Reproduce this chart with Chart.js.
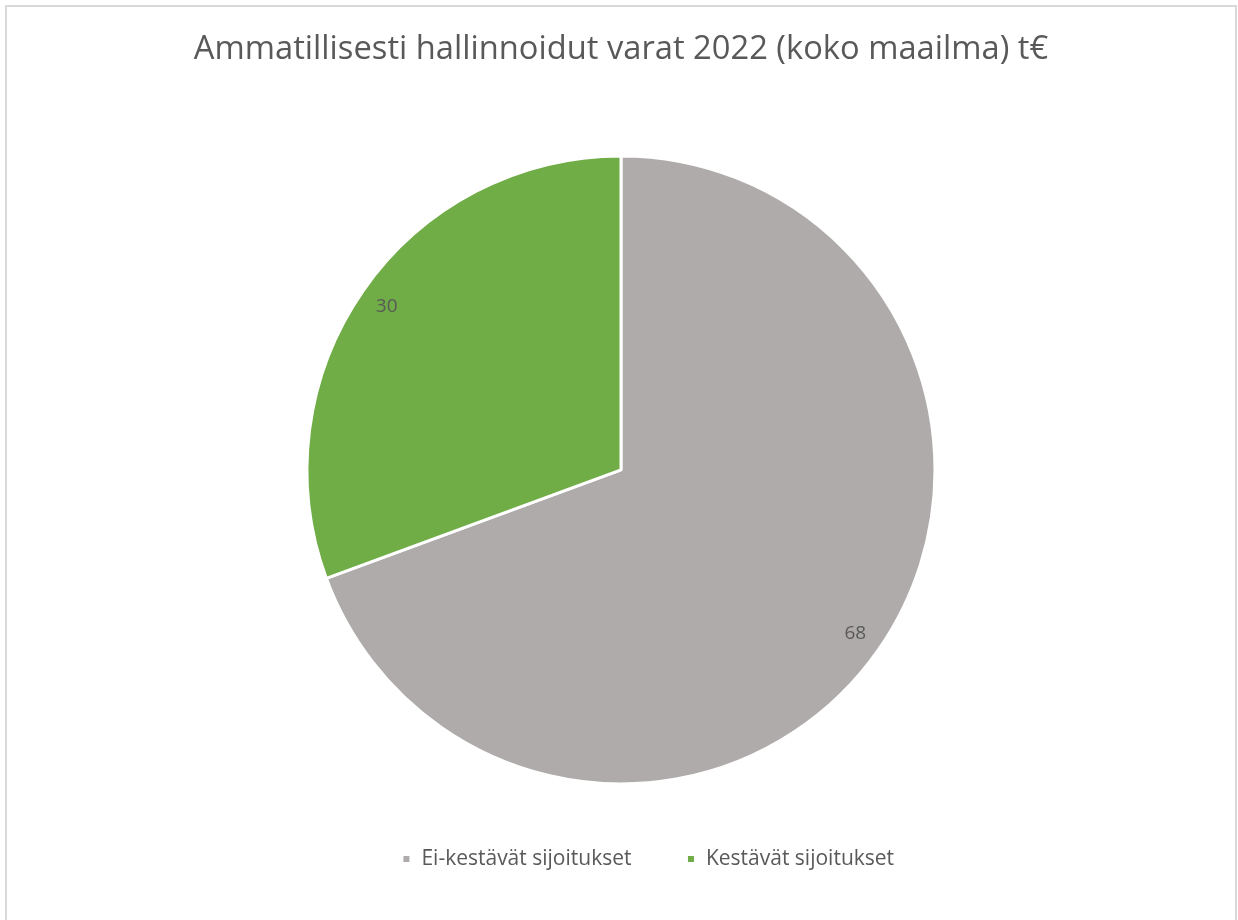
<!DOCTYPE html>
<html>
<head>
<meta charset="utf-8">
<script src="https://cdn.jsdelivr.net/npm/chart.js@4/dist/chart.umd.min.js"></script>
<style>
  body { margin: 0; background: #fff; }
  #frame { position: absolute; left: 5px; top: 5px; width: 1228px; height: 930px; border: 2px solid #d9d9d9; }
  #wrap { position: absolute; left: 0; top: 0; width: 1238px; height: 920px; }
</style>
</head>
<body>
<div id="frame"></div>
<div id="wrap"><canvas id="pieChart"></canvas></div>
<script>
const chartTitle = "Ammatillisesti hallinnoidut varat 2022 (koko maailma) t€";
const categories = ["Ei-kestävät sijoitukset", "Kestävät sijoitukset"];
const values = [68, 30];
const colors = ["#AFABAB", "#70AD47"];

const textColor = "#595959";
const fontFamily = "'Open Sans', sans-serif";

// draws the value of each slice near its outer edge
const sliceLabels = {
  id: "sliceLabels",
  afterDatasetsDraw(chart) {
    const ctx = chart.ctx;
    const meta = chart.getDatasetMeta(0);
    ctx.save();
    ctx.fillStyle = textColor;
    ctx.font = "19px " + fontFamily;
    ctx.textAlign = "center";
    ctx.textBaseline = "middle";
    meta.data.forEach((arc, i) => {
      const p = arc.getProps(["x", "y", "startAngle", "endAngle", "outerRadius"], true);
      const mid = (p.startAngle + p.endAngle) / 2;
      const r = p.outerRadius * 0.91;
      ctx.fillText(values[i], p.x + Math.cos(mid) * r, p.y + Math.sin(mid) * r);
    });
    ctx.restore();
  }
};

// the legend sits a bit right of centre in the original
const legendShift = {
  id: "legendShift",
  afterLayout(chart) {
    chart.legend.left += 27;
    chart.legend.right += 27;
  }
};

const ctx = document.getElementById("pieChart").getContext("2d");
new Chart(ctx, {
  type: "pie",
  data: {
    labels: categories,
    datasets: [{
      data: values,
      backgroundColor: colors,
      borderColor: "#ffffff",
      borderWidth: 3,
      radius: 314
    }]
  },
  options: {
    responsive: true,
    maintainAspectRatio: false,
    animation: false,
    layout: { padding: { top: 20, bottom: 40.4, left: 12, right: 8 } },
    plugins: {
      title: {
        display: true,
        text: chartTitle,
        color: textColor,
        font: { family: fontFamily, size: 32.7, weight: "normal" },
        padding: { top: 10, bottom: 77 }
      },
      legend: {
        position: "bottom",
        labels: {
          color: textColor,
          font: { family: fontFamily, size: 21 },
          boxWidth: 9,
          boxHeight: 9,
          padding: 55
        }
      },
      tooltip: { enabled: false }
    }
  },
  plugins: [sliceLabels, legendShift]
});
</script>
</body>
</html>
